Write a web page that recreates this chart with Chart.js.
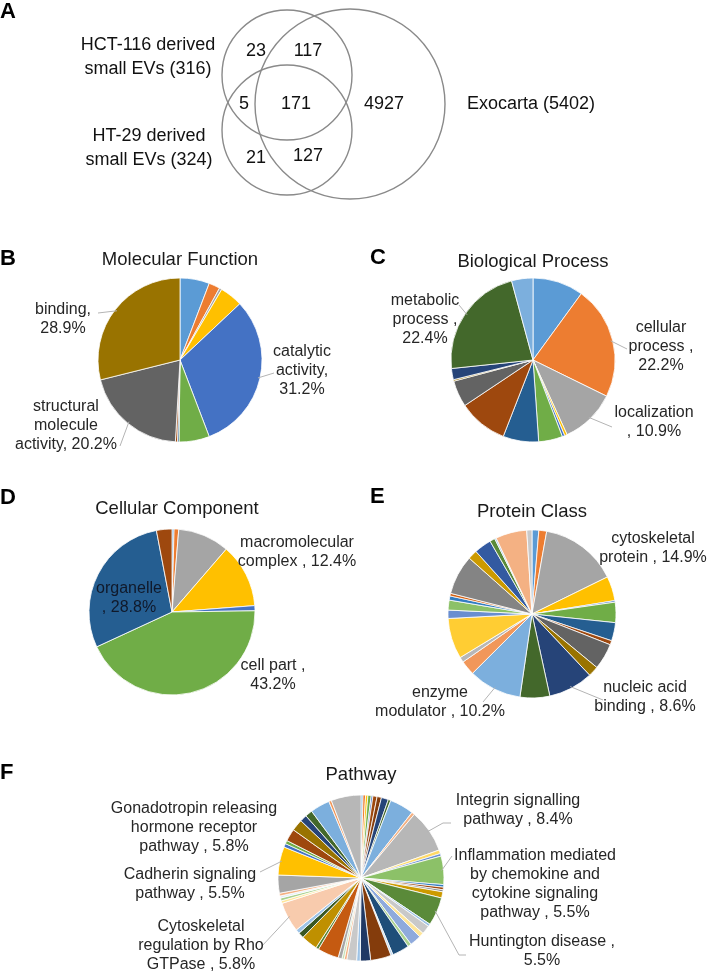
<!DOCTYPE html>
<html>
<head>
<meta charset="utf-8">
<script src="https://cdn.jsdelivr.net/npm/chart.js@4.4.1/dist/chart.umd.min.js"></script>
<style>
html,body{margin:0;padding:0;background:#fff;}
#fig{position:relative;width:709px;height:973px;overflow:hidden;font-family:"Liberation Sans",Arial,sans-serif;color:#1a1a1a;}
.box{position:absolute;}
.t{position:absolute;transform:translate(-50%,-50%);white-space:pre;text-align:center;font-size:16px;line-height:19px;color:#262626;}
.ttl{font-size:18.5px;color:#1a1a1a;}
.v{font-size:18px;line-height:24px;color:#111;}
.lt{position:absolute;transform:translateY(-50%);font-weight:bold;font-size:22px;color:#000;}
</style>
</head>
<body>
<div id="fig"></div>
<script>
// ---- data ----
const vennSets   = ['HCT-116 derived\nsmall EVs (316)', 'HT-29 derived\nsmall EVs (324)', 'Exocarta (5402)'];
const vennCounts = [23, 117, 5, 171, 4927, 21, 127];

// B molecular function
const mfNames  = ['', '', '', '', 'catalytic activity', '', '', '', 'structural molecule activity', 'binding'];
const mfValues = [5.8, 2.2, 0.5, 4.5, 31.2, 6.0, 0.3, 0.4, 20.2, 28.9];

// C biological process
const bpNames  = ['', 'cellular process', 'localization', '', '', '', '', '', '', '', '', 'metabolic process', ''];
const bpValues = [10.0, 22.2, 10.9, 0.5, 0.5, 4.7, 7.0, 9.7, 5.2, 0.3, 2.2, 22.4, 4.2];

// D cellular component
const ccNames  = ['', '', '', 'macromolecular complex', '', 'cell part', 'organelle', ''];
const ccValues = [0.4, 0.9, 10.0, 12.4, 1.0, 43.2, 28.8, 3.0];

// E protein class
const pcNames  = ['', '', 'cytoskeletal protein', '', '', '', '', '', '', '', 'nucleic acid binding', '',
                  'enzyme modulator', '', '', '', '', '', '', '', '', '', '', '', '', '', ''];
const pcValues = [1.3, 1.5, 14.9, 4.7, 0.3, 3.9, 3.5, 0.8, 5.0, 2.0, 8.6, 5.7,
                  10.2, 2.8, 1.0, 7.8, 1.6, 1.9, 0.8, 0.5, 7.6, 1.8, 3.3, 1.0, 0.3, 6.0, 1.0];

// F pathway
const pwNames  = ['', '', '', '', '', '', '', '', '', '', '', 'Integrin signalling pathway', '', '',
                  'Inflammation mediated by chemokine and cytokine signaling pathway', '', '', '', '',
                  'Huntington disease', '', '', '', '', '', '', '', '', '', '', '', '', '', '', '', '', '', '', '',
                  'Cytoskeletal regulation by Rho GTPase', '', '', '', '', '', 'Cadherin signaling pathway',
                  '', '', '', '', '', '', '', '', 'Gonadotropin releasing hormone receptor pathway'];
const pwValues = [0.39, 0.5, 0.44, 0.64, 0.33, 0.8, 0.86, 1.36, 0.5, 4.67, 0.58, 8.4, 0.72, 0.5,
                  5.5, 0.5, 0.5, 0.4, 1.2, 5.5, 0.5, 1.7, 0.9, 2.2, 0.7, 3.3, 0.4, 4.0, 2.0,
                  0.7, 1.9, 0.5, 0.45, 0.75, 4.1, 0.55, 3.2, 1.1, 0.8, 5.8, 0.5, 0.55, 0.4, 0.55,
                  3.5, 5.5, 0.7, 0.65, 2.4, 2.25, 1.35, 1.4, 3.8, 0.5, 5.8];

// ---- styles ----
const office = ['#5B9BD5','#ED7D31','#A5A5A5','#FFC000','#4472C4','#70AD47','#255E91','#9E480E','#636363','#997300',
                '#264478','#43682B','#7CAFDD','#F1975A','#B7B7B7','#FFCD33','#698ED0','#8CC168','#327DC2','#D26012',
                '#848484','#CC9A00','#335AA1','#5A8A39','#9DC3E6','#F4B183','#C9C9C9'];
const pwColors = ['#5B9BD5','#ED7D31','#FFC000','#70AD47','#4472C4','#9E480E','#843C0C','#264478','#43682B','#7CAFDD',
                  '#F4B183','#B7B7B7','#FFD966','#698ED0','#8CC168','#327DC2','#9E480E','#848484','#CC9A00','#5A8A39',
                  '#9DC3E6','#C9C9C9','#FFE699','#8FAADC','#A9D18E','#1F4E79','#BDD7EE','#843C0C','#203864',
                  '#9DC3E6','#C9C9C9','#F4B183','#C5E0B4','#A5A5A5','#C55A11','#548235','#BF9000','#385723','#9DC3E6',
                  '#F8CBAD','#FFE699','#A9D18E','#DEEBF7','#F4B183','#A5A5A5','#FFC000','#4472C4','#70AD47',
                  '#9E480E','#997300','#264478','#43682B','#7CAFDD','#F1975A','#B7B7B7'];

const fig = document.getElementById('fig');

function text(str, x, y, cls, extra){
  const d = document.createElement('div');
  d.className = cls;
  d.textContent = str;
  d.style.left = x + 'px'; d.style.top = y + 'px';
  if (extra) Object.assign(d.style, extra);
  fig.appendChild(d);
  return d;
}
function wrap(x, y, w, h){
  const d = document.createElement('div');
  d.className = 'box';
  Object.assign(d.style, {left:x+'px', top:y+'px', width:w+'px', height:h+'px'});
  const c = document.createElement('canvas');
  d.appendChild(c); fig.appendChild(d);
  return c;
}

// ---- A: venn ----
const vennLayout = {
  circles: [{x:287, y:75, r:65}, {x:287, y:130, r:65}, {x:350, y:104, r:95}],
  setPos:  [[148, 55.5], [149, 146.5], [531, 103]],
  countPos:[[256,50],[308,50],[244,103],[296,103],[384,103],[256,157],[308,155]]
};
const vc = wrap(0, 0, 709, 205);
new Chart(vc, {
  type: 'bubble',
  data: { datasets: [{
    data: vennLayout.circles.map(c => ({x:c.x, y:c.y, r:c.r})),
    backgroundColor: 'rgba(0,0,0,0)', borderColor: '#8a8a8a', borderWidth: 1.4, clip: false
  }]},
  options: {
    responsive: true, maintainAspectRatio: false, animation: false, events: [],
    layout: { padding: 0, autoPadding: false },
    plugins: { legend: {display:false}, tooltip: {enabled:false} },
    scales: {
      x: { type:'linear', display:false, min:0, max:709 },
      y: { type:'linear', display:false, min:0, max:205, reverse:true }
    }
  }
});
vennSets.forEach((s, i) => {
  const p = vennLayout.setPos[i];
  text(s, p[0], p[1], 't v');
});
vennCounts.forEach((n, i) => {
  const p = vennLayout.countPos[i];
  text(String(n), p[0], p[1], 't v');
});
text('A', 0, 11, 'lt');

// ---- pies ----
function pie(cfg){
  const [bx, by, bw, bh] = cfg.box;
  const c = wrap(bx, by, bw, bh);
  const edge = 0.8, half = cfg.r + edge / 2;
  const leaderPlugin = {
    id: 'leaders',
    afterDatasetsDraw(chart){
      const arcs = chart.getDatasetMeta(0).data;
      const ctx = chart.ctx;
      ctx.save();
      ctx.strokeStyle = '#b4b4b4'; ctx.lineWidth = 1;
      (cfg.leaders || []).forEach(L => {
        const a = arcs[L.i];
        const mid = (a.startAngle + a.endAngle) / 2;
        ctx.beginPath();
        ctx.moveTo(a.x + Math.cos(mid) * (a.outerRadius - 2), a.y + Math.sin(mid) * (a.outerRadius - 2));
        L.pts.forEach(p => ctx.lineTo(p[0] - bx, p[1] - by));
        ctx.stroke();
      });
      ctx.restore();
    }
  };
  new Chart(c, {
    type: 'pie',
    data: { labels: cfg.names, datasets: [{
      data: cfg.values, backgroundColor: cfg.colors,
      borderColor: '#ffffff', borderWidth: edge
    }]},
    options: {
      responsive: true, maintainAspectRatio: false, animation: false, events: [],
      layout: { autoPadding: false, padding: {
        left: cfg.cx - half - bx, right: bx + bw - cfg.cx - half,
        top: cfg.cy - half - by, bottom: by + bh - cfg.cy - half
      }},
      plugins: { legend: {display:false}, tooltip: {enabled:false} }
    },
    plugins: [leaderPlugin]
  });
  text(cfg.title, cfg.titlePos[0], cfg.titlePos[1], 't ttl');
  text(cfg.letter, cfg.letterPos[0], cfg.letterPos[1], 'lt');
  cfg.labels.forEach(L => {
    const s = L.fmt.replace('{v}', cfg.values[L.i].toFixed(1));
    text(s, L.x, L.y, 't', L.color ? {color: L.color} : null);
  });
}

pie({
  box: [0, 240, 350, 220], cx: 180, cy: 360, r: 82,
  names: mfNames, values: mfValues, colors: office,
  title: 'Molecular Function', titlePos: [180, 258], letter: 'B', letterPos: [0, 258],
  labels: [
    {i: 9, fmt: 'binding,\n{v}%', x: 63, y: 318},
    {i: 4, fmt: 'catalytic\nactivity,\n{v}%', x: 302, y: 369},
    {i: 8, fmt: 'structural\nmolecule\nactivity, {v}%', x: 66, y: 424}
  ],
  leaders: [
    {i: 9, pts: [[98, 313]]},
    {i: 4, pts: [[274, 373]]},
    {i: 8, pts: [[120, 446]]}
  ]
});

pie({
  box: [355, 240, 354, 220], cx: 533, cy: 360, r: 82,
  names: bpNames, values: bpValues, colors: office,
  title: 'Biological Process', titlePos: [533, 260], letter: 'C', letterPos: [370, 257],
  labels: [
    {i: 11, fmt: 'metabolic\nprocess ,\n{v}%', x: 425, y: 318},
    {i: 1, fmt: 'cellular\nprocess ,\n{v}%', x: 661, y: 345},
    {i: 2, fmt: 'localization\n, {v}%', x: 654, y: 421}
  ],
  leaders: [
    {i: 11, pts: [[459, 305]]},
    {i: 1, pts: [[627, 349]]},
    {i: 2, pts: [[612, 427]]}
  ]
});

pie({
  box: [0, 480, 360, 240], cx: 172, cy: 612, r: 83,
  names: ccNames, values: ccValues, colors: office,
  title: 'Cellular Component', titlePos: [177, 507], letter: 'D', letterPos: [0, 497],
  labels: [
    {i: 3, fmt: 'macromolecular\ncomplex , {v}%', x: 297, y: 551},
    {i: 6, fmt: 'organelle\n, {v}%', x: 129, y: 597, color: '#10192a'},
    {i: 5, fmt: 'cell part ,\n{v}%', x: 273, y: 674}
  ],
  leaders: []
});

pie({
  box: [360, 480, 349, 240], cx: 532, cy: 614, r: 84,
  names: pcNames, values: pcValues, colors: office,
  title: 'Protein Class', titlePos: [532, 510], letter: 'E', letterPos: [370, 496],
  labels: [
    {i: 2, fmt: 'cytoskeletal\nprotein , {v}%', x: 653, y: 547},
    {i: 10, fmt: 'nucleic acid\nbinding , {v}%', x: 645, y: 696},
    {i: 12, fmt: 'enzyme\nmodulator , {v}%', x: 440, y: 701}
  ],
  leaders: [
    {i: 10, pts: [[603, 700]]},
    {i: 12, pts: [[483, 702]]}
  ]
});

pie({
  box: [0, 760, 709, 213], cx: 361, cy: 878, r: 83,
  names: pwNames, values: pwValues, colors: pwColors,
  title: 'Pathway', titlePos: [361, 773], letter: 'F', letterPos: [0, 772],
  labels: [
    {i: 54, fmt: 'Gonadotropin releasing\nhormone receptor\npathway , {v}%', x: 194, y: 826},
    {i: 45, fmt: 'Cadherin signaling\npathway , {v}%', x: 190, y: 883},
    {i: 39, fmt: 'Cytoskeletal\nregulation by Rho\nGTPase , {v}%', x: 201, y: 944},
    {i: 11, fmt: 'Integrin signalling\npathway , {v}%', x: 518, y: 809},
    {i: 14, fmt: 'Inflammation mediated\nby chemokine and\ncytokine signaling\npathway , {v}%', x: 535, y: 883},
    {i: 19, fmt: 'Huntington disease ,\n{v}%', x: 542, y: 950}
  ],
  leaders: [
    {i: 11, pts: [[443, 823], [451, 823]]},
    {i: 14, pts: [[452, 856]]},
    {i: 19, pts: [[459, 955], [466, 955]]},
    {i: 45, pts: [[260, 872]]},
    {i: 39, pts: [[262, 946]]}
  ]
});
</script>
</body>
</html>
